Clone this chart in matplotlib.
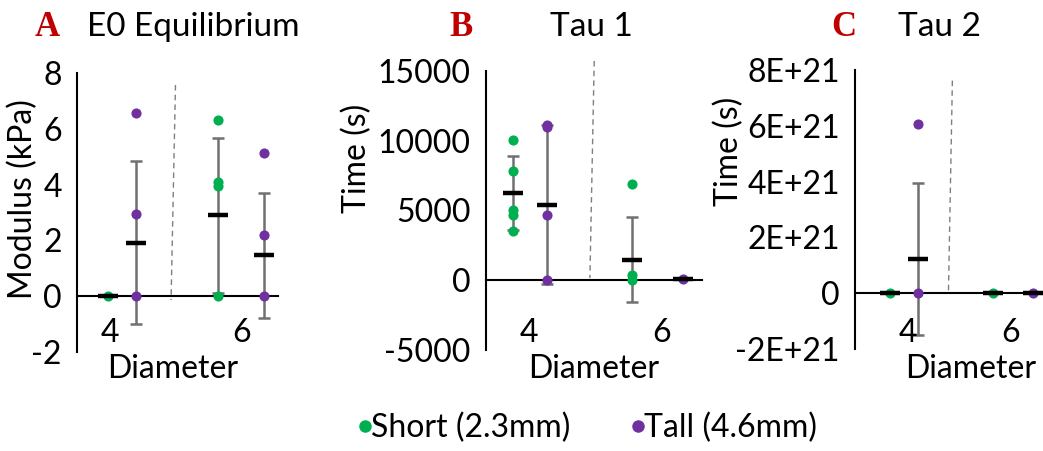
import numpy as np
import matplotlib
matplotlib.use('Agg')
import matplotlib.pyplot as plt
from matplotlib.lines import Line2D
from matplotlib.ticker import FuncFormatter

plt.rcParams['font.family'] = ['Lato', 'DejaVu Sans']
plt.rcParams['axes.unicode_minus'] = False

# ---- data ----
groups = ['4', '6']

# E0 Equilibrium (kPa)
e0_short_pts = [[0.0], [6.32, 4.10, 3.95, 0.0]]
e0_tall_pts = [[6.55, 2.96, 0.0], [5.14, 2.21, 0.0]]
e0_short_mean = [0.0, 2.90]
e0_short_sd = [0.0, 2.77]
e0_tall_mean = [1.92, 1.47]
e0_tall_sd = [2.91, 2.24]

# Tau 1 (s)
tau1_short_pts = [[10040, 7810, 5070, 4660, 3530], [6880, 360, 50]]
tau1_tall_pts = [[11160, 10960, 4660, 0], [100]]
tau1_short_mean = [6260, 1480]
tau1_short_sd = [2630, 3030]
tau1_tall_mean = [5430, 100]
tau1_tall_sd = [5730, 0]

# Tau 2 (s)
tau2_short_pts = [[0.0], [0.0]]
tau2_tall_pts = [[6.06e21, 0.0], [0.0]]
tau2_short_mean = [0.0, 0.0]
tau2_short_sd = [0.0, 0.0]
tau2_tall_mean = [1.22e21, 0.0]
tau2_tall_sd = [2.72e21, 0.0]

green = '#00B050'
purple = '#7030A0'
red = '#C00000'
W, H = 1043, 451
FS = 23

fig = plt.figure(figsize=(W / 100, H / 100), dpi=100)

# layout per panel: axes box in px, x positions (axes fraction) of the columns,
# category label positions, divider line, text anchors in px
panels = [
    dict(letter='A', title='E0 Equilibrium', ylabel='Modulus (kPa)',
         box=(77, 73, 278, 352), ylim=(-2, 8), step=2,
         sp=e0_short_pts, tp=e0_tall_pts, sm=e0_short_mean, ss=e0_short_sd,
         tm=e0_tall_mean, ts=e0_tall_sd,
         xs=[0.154, 0.701], xt=[0.294, 0.930], xl=[0.164, 0.821],
         div=((0.490, 0.957), (0.468, 0.186)),
         letter_x=47, title_x=193, ylab=(23, 199), diam_x=173, sci=False),
    dict(letter='B', title='Tau 1', ylabel='Time (s)',
         box=(486, 71, 702, 350), ylim=(-5000, 15000), step=5000,
         sp=tau1_short_pts, tp=tau1_tall_pts, sm=tau1_short_mean, ss=tau1_short_sd,
         tm=tau1_tall_mean, ts=tau1_tall_sd,
         xs=[0.124, 0.675], xt=[0.281, 0.912], xl=[0.199, 0.815],
         div=((0.501, 1.036), (0.481, 0.258)),
         letter_x=461, title_x=591, ylab=(357, 158), diam_x=594, sci=False),
    dict(letter='C', title='Tau 2', ylabel='Time (s)',
         box=(855, 70, 1043, 349), ylim=(-2e21, 8e21), step=2e21,
         sp=tau2_short_pts, tp=tau2_tall_pts, sm=tau2_short_mean, ss=tau2_short_sd,
         tm=tau2_tall_mean, ts=tau2_tall_sd,
         xs=[0.186, 0.732], xt=[0.334, 0.947], xl=[0.282, 0.828],
         div=((0.518, 0.962), (0.497, 0.20)),
         letter_x=844, title_x=939, ylab=(729, 151), diam_x=971, sci=True),
]

for p in panels:
    l, t, r, b = p['box']
    ax = fig.add_axes([l / W, 1 - b / H, (r - l) / W, (b - t) / H])
    ax.set_xlim(0, 1)
    ax.set_ylim(*p['ylim'])
    lo, hi = p['ylim']
    ax.set_yticks(np.arange(lo, hi + p['step'] / 2, p['step']))
    if p['sci']:
        ax.yaxis.set_major_formatter(FuncFormatter(
            lambda v, pos: '0' if v == 0 else '{:.0E}'.format(v)))
    else:
        ax.yaxis.set_major_formatter(FuncFormatter(lambda v, pos: '%d' % round(v)))
    ax.set_xticks([])
    ax.tick_params(axis='y', length=0, pad=11, labelsize=FS)
    for s in ['top', 'right']:
        ax.spines[s].set_visible(False)
    ax.spines['bottom'].set_position(('data', 0))
    ax.spines['left'].set_linewidth(1.5)
    ax.spines['bottom'].set_linewidth(1.5)
    ax.patch.set_alpha(0)

    for xpos, pts, m, sd, col in [(p['xs'], p['sp'], p['sm'], p['ss'], green),
                                  (p['xt'], p['tp'], p['tm'], p['ts'], purple)]:
        for i in range(len(groups)):
            if sd[i] > 0:
                ax.errorbar(xpos[i], m[i], yerr=sd[i], fmt='none', ecolor='#707070',
                            elinewidth=1.8, capsize=4, capthick=1.8, zorder=2)
            ax.plot([xpos[i]] * len(pts[i]), pts[i], 'o', color=col, ms=7.3,
                    mec='none', zorder=3, clip_on=False)
            ax.plot(xpos[i], m[i], '_', color='black', ms=14, mew=3.2, zorder=4,
                    clip_on=False)

    # dashed divider between diameters
    (x0, y0), (x1, y1) = p['div']
    ax.plot([x0, x1], [y0, y1], transform=ax.transAxes, ls=(0, (4, 3)),
            color='#7F7F7F', lw=1.0, clip_on=False)

    # category labels
    for xpos, g in zip(p['xl'], groups):
        ax.text(xpos, (b - 333) / (b - t), g, transform=ax.transAxes,
                ha='center', va='center', fontsize=FS)
    fig.text(p['diam_x'] / W, 1 - 369 / H, 'Diameter', ha='center', va='center',
             fontsize=FS)

    fig.text(p['ylab'][0] / W, 1 - p['ylab'][1] / H, p['ylabel'], rotation=90,
             ha='center', va='center', fontsize=FS)
    fig.text(p['letter_x'] / W, 1 - 27 / H, p['letter'], color=red,
             family='Liberation Serif', weight='bold', fontsize=25,
             ha='center', va='center')
    fig.text(p['title_x'] / W, 1 - 27 / H, p['title'], fontsize=24,
             ha='center', va='center')

handles = [Line2D([], [], marker='o', ls='none', color=green, ms=9, mec='none'),
           Line2D([], [], marker='o', ls='none', color=purple, ms=9, mec='none')]
fig.legend(handles, ['Short (2.3mm)', 'Tall (4.6mm)'], loc='center',
           bbox_to_anchor=(583 / W, 1 - 428 / H), ncol=2, frameon=False,
           fontsize=FS, handletextpad=-0.3, columnspacing=1.6, handlelength=1.0)

fig.savefig('out.png', dpi=100)
